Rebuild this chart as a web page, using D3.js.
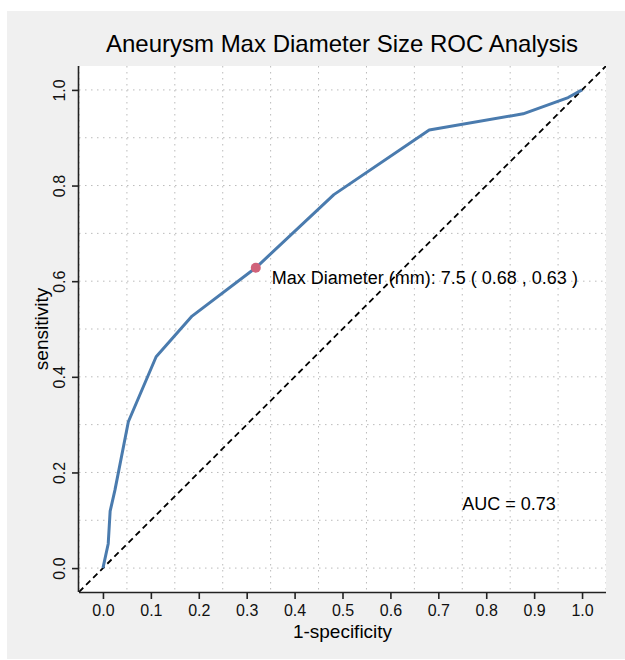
<!DOCTYPE html>
<html><head><meta charset="utf-8">
<script src="https://cdn.jsdelivr.net/npm/d3@7"></script>
<style>body{margin:0;background:#fff;font-family:"Liberation Sans",Arial,sans-serif}</style>
</head><body>
<svg id="c" width="625" height="660"></svg>
<script>
const fpr = [0, 0.011, 0.015, 0.025, 0.053, 0.111, 0.186, 0.319, 0.482, 0.681, 0.877, 0.971, 1];
const tpr = [0, 0.051, 0.119, 0.163, 0.306, 0.442, 0.527, 0.628, 0.781, 0.916, 0.950, 0.984, 1];
const bestPoint = {x: 0.319, y: 0.628};
const bestLabel = "Max Diameter (mm): 7.5 ( 0.68 , 0.63 )";
const aucLabel = "AUC = 0.73";
const titleText = "Aneurysm Max Diameter Size ROC Analysis";
const xTicks = [0,0.1,0.2,0.3,0.4,0.5,0.6,0.7,0.8,0.9,1.0];
const yTicks = [0,0.2,0.4,0.6,0.8,1.0];
const xGrid = [-0.05,0.05,0.15,0.25,0.35,0.45,0.55,0.65,0.75,0.85,0.95,1.05];
const yGrid = [0,0.1,0.2,0.3,0.4,0.5,0.6,0.7,0.8,0.9,1.0];

const svg = d3.select("#c");
const L = 79, R = 606, T = 66, B = 592;
const x = d3.scaleLinear().domain([-0.05,1.05]).range([L,R]);
const y = d3.scaleLinear().domain([-0.05,1.05]).range([B,T]);

svg.append("rect").attr("x",7).attr("y",11).attr("width",618).attr("height",648).attr("fill","#f0f0f0");
svg.append("rect").attr("x",L).attr("y",T).attr("width",R-L).attr("height",B-T).attr("fill","#fff");

svg.append("defs").append("clipPath").attr("id","clip").append("rect")
  .attr("x",L).attr("y",T).attr("width",R-L).attr("height",B-T);

const g = svg.append("g").attr("clip-path","url(#clip)");
g.selectAll(".vg").data(xGrid).join("line")
  .attr("x1",d=>x(d)).attr("x2",d=>x(d)).attr("y1",T).attr("y2",B)
  .attr("stroke","#bbb").attr("stroke-width",1).attr("stroke-dasharray","1.5,4.5");
g.selectAll(".hg").data(yGrid).join("line")
  .attr("y1",d=>y(d)).attr("y2",d=>y(d)).attr("x1",L).attr("x2",R)
  .attr("stroke","#bbb").attr("stroke-width",1).attr("stroke-dasharray","1.5,4.5");

g.append("line").attr("x1",x(-0.05)).attr("y1",y(-0.05)).attr("x2",x(1.05)).attr("y2",y(1.05))
  .attr("stroke","#000").attr("stroke-width",1.8).attr("stroke-dasharray","6,4");

const pts = fpr.map((v,i)=>[v,tpr[i]]);
g.append("path").datum(pts)
  .attr("d", d3.line().x(d=>x(d[0])).y(d=>y(d[1])))
  .attr("fill","none").attr("stroke","#4a7bae").attr("stroke-width",3).attr("stroke-linejoin","round");

g.append("circle").attr("cx",x(bestPoint.x)).attr("cy",y(bestPoint.y)).attr("r",5).attr("fill","#d0627a");

svg.append("text").attr("x",x(bestPoint.x)+16).attr("y",y(bestPoint.y)+16)
  .attr("font-size",18).attr("fill","#000").text(bestLabel);
svg.append("text").attr("x",x(0.75)).attr("y",y(0.14)+9)
  .attr("font-size",18).attr("fill","#000").text(aucLabel);

// axes
const xa = svg.append("g").attr("transform",`translate(0,${B})`)
  .call(d3.axisBottom(x).tickValues(xTicks).tickFormat(d3.format(".1f")).tickSize(7).tickSizeOuter(0).tickPadding(6));
xa.select(".domain").attr("d",`M${L},0.5H${R}`).attr("stroke","#222").attr("stroke-width",1.6);
xa.selectAll(".tick line").attr("stroke","#222").attr("stroke-width",1.6);
xa.selectAll(".tick text").attr("font-size",16).attr("font-family","Liberation Sans, Arial, sans-serif").attr("fill","#111");

const ya = svg.append("g").attr("transform",`translate(${L},0)`)
  .call(d3.axisLeft(y).tickValues(yTicks).tickFormat(d3.format(".1f")).tickSize(7).tickSizeOuter(0));
ya.select(".domain").attr("d",`M-0.5,${T}V${B}`).attr("stroke","#222").attr("stroke-width",1.6);
ya.selectAll(".tick line").attr("stroke","#222").attr("stroke-width",1.6);
ya.selectAll(".tick text").attr("font-size",16).attr("font-family","Liberation Sans, Arial, sans-serif").attr("fill","#111")
  .attr("x",0).attr("dy",null).attr("text-anchor","middle")
  .attr("transform","translate(-14,0) rotate(-90)");

svg.append("text").attr("x",(L+R)/2).attr("y",638).attr("text-anchor","middle")
  .attr("font-size",19).text("1-specificity");
svg.append("text").attr("transform",`translate(48,${(T+B)/2}) rotate(-90)`).attr("text-anchor","middle")
  .attr("font-size",19).text("sensitivity");
svg.append("text").attr("x",342).attr("y",52).attr("text-anchor","middle")
  .attr("font-size",24).text(titleText);
</script>
</body></html>
